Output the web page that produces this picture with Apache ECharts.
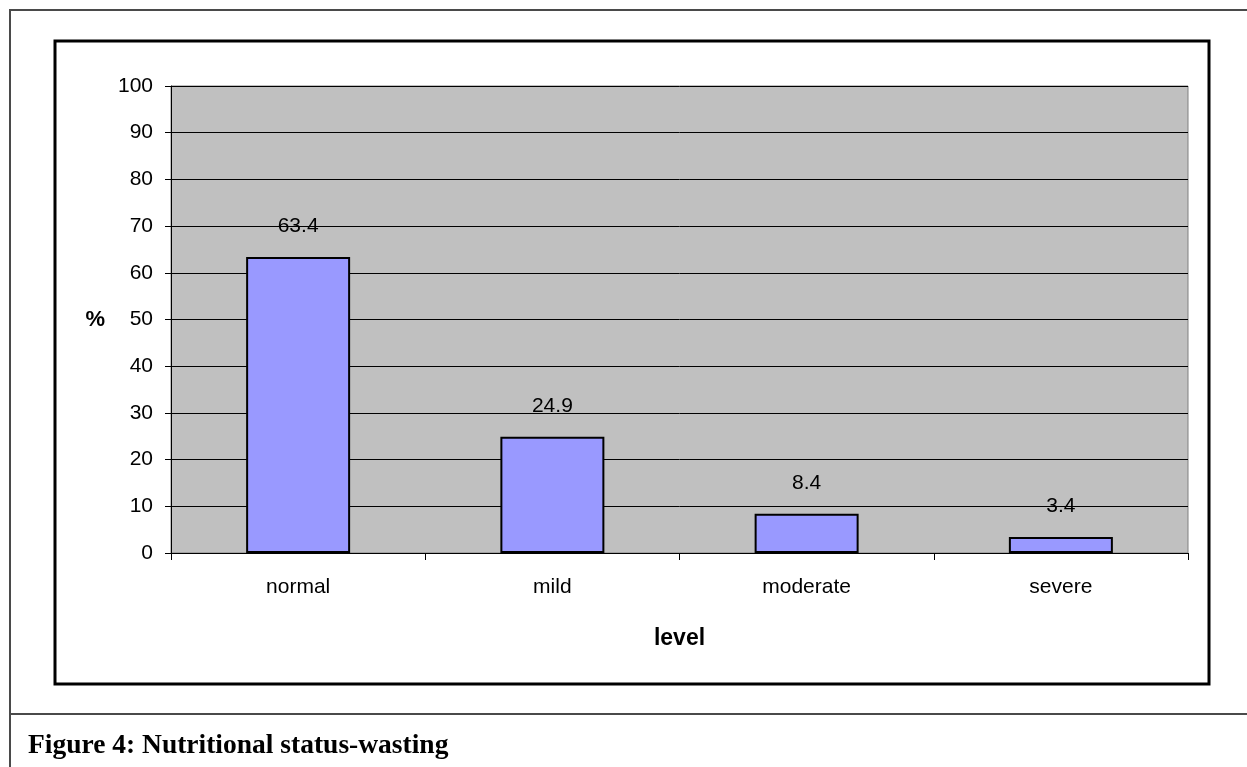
<!DOCTYPE html>
<html>
<head>
<meta charset="utf-8">
<script src="https://cdn.jsdelivr.net/npm/echarts@6/dist/echarts.min.js"></script>
<style>
html,body{margin:0;padding:0;background:#fff;}
#chart{width:1247px;height:767px;}
</style>
</head>
<body>
<div id="chart"></div>
<script>
const categories = ['normal', 'mild', 'moderate', 'severe'];
const values = [63.4, 24.9, 8.4, 3.4];
const yTicks = [0, 10, 20, 30, 40, 50, 60, 70, 80, 90, 100];
const captionText = 'Figure 4: Nutritional status-wasting';
const xName = 'level';
const yName = '%';

const chart = echarts.init(document.getElementById('chart'), null, {renderer: 'canvas'});
const sans = '"Liberation Sans", Arial, sans-serif';
chart.setOption({
  backgroundColor: '#ffffff',
  animation: false,
  title: {
    text: captionText,
    left: 23,
    top: 727,
    textStyle: {fontFamily: '"Liberation Serif", "DejaVu Serif", serif', fontWeight: 'bold', fontSize: 27.5, color: '#000'}
  },
  graphic: [
    {type: 'polyline', shape: {points: [[10, 767], [10, 10], [1247, 10]]}, style: {stroke: '#4a4a4a', lineWidth: 2, fill: null}, silent: true},
    {type: 'line', shape: {x1: 10, y1: 714, x2: 1247, y2: 714}, style: {stroke: '#4a4a4a', lineWidth: 2}, silent: true},
    {type: 'rect', shape: {x: 55, y: 41, width: 1154, height: 643}, style: {stroke: '#000', lineWidth: 3, fill: null}, silent: true, z: -1}
  ],
  grid: {
    left: 171, top: 86, right: 59, bottom: 214,
    show: true, backgroundColor: '#C0C0C0', borderColor: '#808080', borderWidth: 1
  },
  xAxis: {
    type: 'category',
    data: categories,
    name: xName,
    nameLocation: 'middle',
    nameGap: 74,
    nameTextStyle: {fontFamily: sans, fontWeight: 'bold', fontSize: 23, color: '#000'},
    axisLine: {show: true, lineStyle: {color: '#000', width: 1}},
    axisTick: {show: true, inside: false, length: 7, lineStyle: {color: '#000'}},
    axisLabel: {fontFamily: sans, fontSize: 21, color: '#000', margin: 24},
    splitLine: {show: false}
  },
  yAxis: {
    type: 'value',
    min: yTicks[0],
    max: yTicks[yTicks.length - 1],
    interval: yTicks[1] - yTicks[0],
    name: yName,
    nameLocation: 'middle',
    nameRotate: 0,
    nameGap: 66,
    nameTextStyle: {fontFamily: sans, fontWeight: 'bold', fontSize: 22, color: '#000'},
    axisLine: {show: true, lineStyle: {color: '#000', width: 1}},
    axisTick: {show: true, inside: false, length: 6, lineStyle: {color: '#000'}},
    axisLabel: {fontFamily: sans, fontSize: 21, color: '#000', margin: 18},
    splitLine: {show: true, lineStyle: {color: '#000', width: 1}}
  },
  series: [{
    type: 'bar',
    data: values,
    barWidth: 104,
    itemStyle: {color: '#9999FF', borderColor: '#000', borderWidth: 2},
    label: {show: true, position: 'top', distance: 20, fontFamily: sans, fontSize: 21, color: '#000'}
  }]
});
</script>
</body>
</html>
